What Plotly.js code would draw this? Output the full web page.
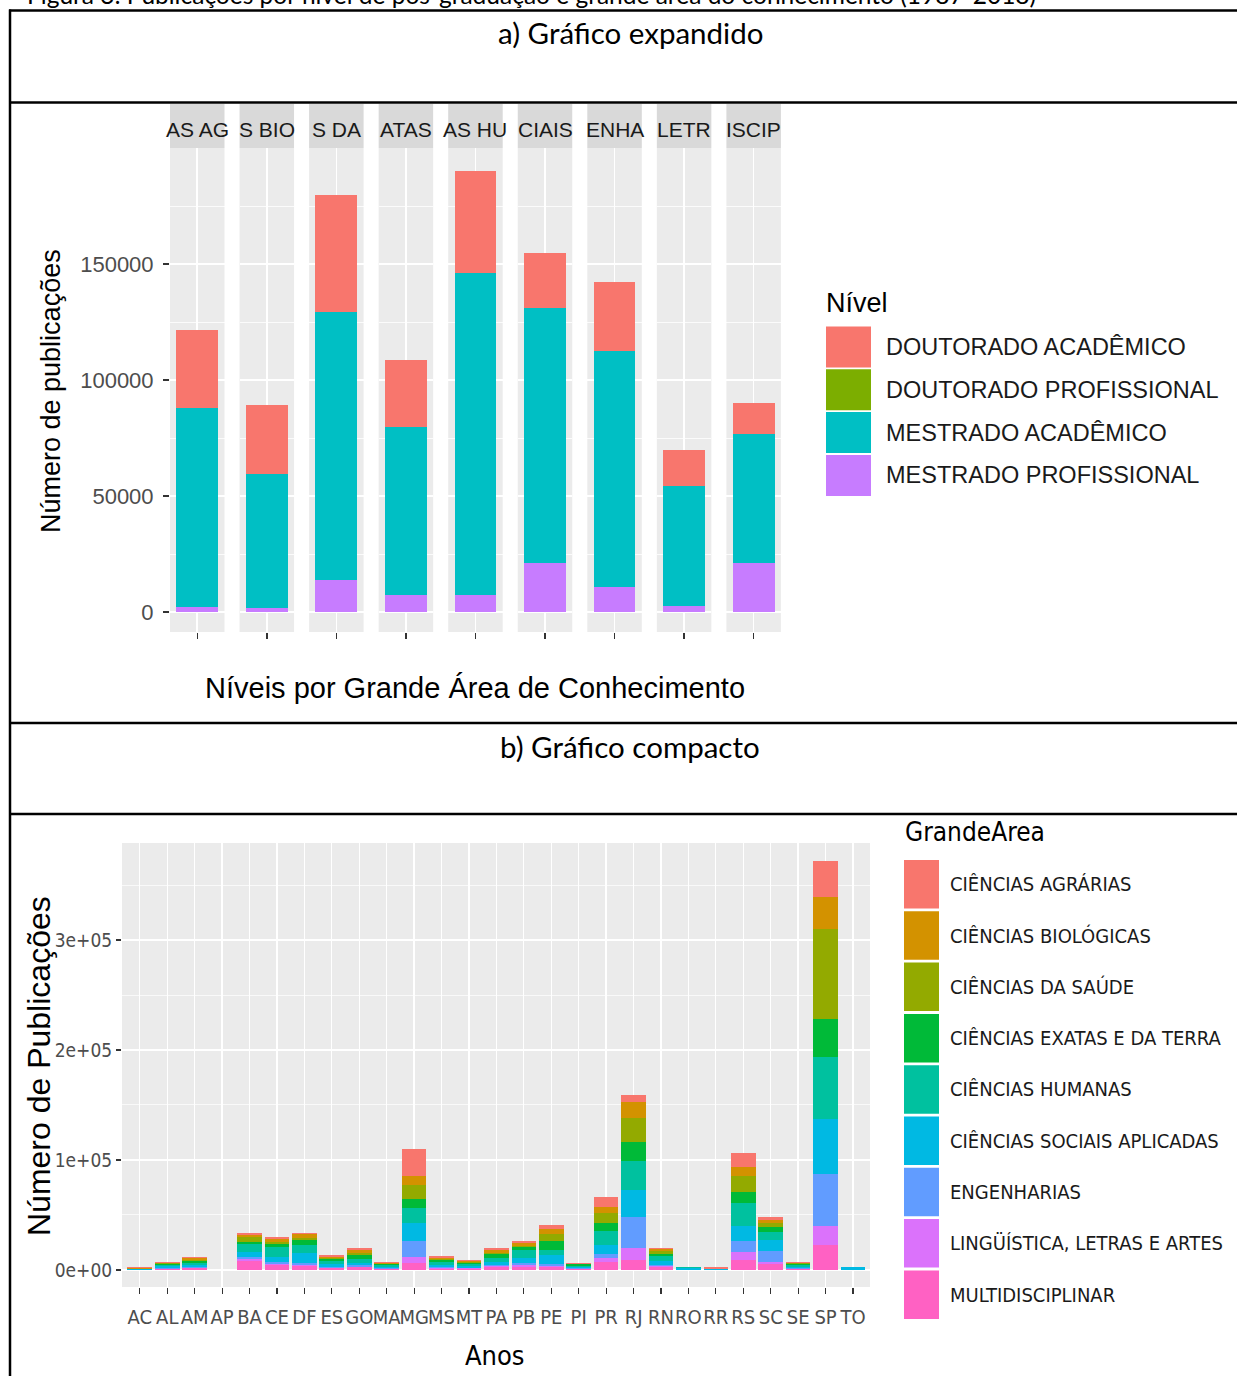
<!DOCTYPE html>
<html>
<head>
<meta charset="utf-8">
<script src="https://cdn.plot.ly/plotly-3.0.1.min.js"></script>
<style>html,body{margin:0;padding:0;background:#fff;}#chart{width:1237px;height:1376px;}</style>
</head>
<body>
<div id="chart"></div>
<script>
// ---------- DATA: chart a) ----------
const areasA = ['CIÊNCIAS AGRÁRIAS','CIÊNCIAS BIOLÓGICAS','CIÊNCIAS DA SAÚDE','CIÊNCIAS EXATAS E DA TERRA','CIÊNCIAS HUMANAS','CIÊNCIAS SOCIAIS APLICADAS','ENGENHARIAS','LINGÜÍSTICA, LETRAS E ARTES','MULTIDISCIPLINAR'];
const stripLabels = ['AS AG','S BIO','S DA','ATAS','AS HU','CIAIS','ENHA','LETR','ISCIP'];
const niveis = ['DOUTORADO ACADÊMICO','DOUTORADO PROFISSIONAL','MESTRADO ACADÊMICO','MESTRADO PROFISSIONAL'];
const coresNivel = ['#F8766D','#7CAE00','#00BFC4','#C77CFF'];
const doutoradoAcademico    = [33650, 29600, 50300, 28900, 43850, 23800, 29750, 15850, 13450];
const doutoradoProfissional = [60, 30, 120, 80, 40, 100, 110, 20, 90];
const mestradoAcademico     = [85500, 57900, 115600, 72150, 138650, 109850, 101650, 51450, 55350];
const mestradoProfissional  = [2300, 1700, 13800, 7500, 7500, 21200, 10800, 2700, 21200];
const ticksA = [0, 50000, 100000, 150000];

// ---------- DATA: chart b) ----------
const estados = ['AC','AL','AM','AP','BA','CE','DF','ES','GO','MA','MG','MS','MT','PA','PB','PE','PI','PR','RJ','RN','RO','RR','RS','SC','SE','SP','TO'];
const grandesAreas = ['CIÊNCIAS AGRÁRIAS','CIÊNCIAS BIOLÓGICAS','CIÊNCIAS DA SAÚDE','CIÊNCIAS EXATAS E DA TERRA','CIÊNCIAS HUMANAS','CIÊNCIAS SOCIAIS APLICADAS','ENGENHARIAS','LINGÜÍSTICA, LETRAS E ARTES','MULTIDISCIPLINAR'];
const coresArea = ['#F8766D','#D39200','#93AA00','#00BA38','#00C19F','#00B9E3','#619CFF','#DB72FB','#FF61C3'];
//                   AC   AL    AM   AP   BA    CE    DF    ES    GO    MA    MG     MS    MT    PA    PB    PE    PI    PR     RJ     RN    RO    RR    RS     SC     SE    SP     TO
const agrarias     = [1000, 300, 1500, 0, 1500, 2100, 1200, 1000, 2100, 700, 24500, 1500, 1500, 2100, 2100, 3100, 300, 9200, 6100, 800, 100, 1500, 12200, 2400, 300, 33000, 100];
const biologicas   = [200, 700, 1200, 0, 2500, 2100, 3000, 1200, 2100, 500, 8000, 1200, 800, 2100, 2100, 4600, 300, 5200, 14700, 2100, 100, 100, 8900, 3100, 400, 28800, 100];
const saude        = [200, 500, 1200, 0, 4000, 2500, 2500, 800, 2400, 600, 12900, 1000, 700, 1500, 1000, 6100, 500, 9200, 22000, 2100, 100, 100, 14100, 3100, 600, 81400, 100];
const exatas       = [200, 800, 2100, 0, 2500, 2500, 4500, 2000, 3000, 800, 7700, 2000, 1500, 3500, 3000, 8700, 1500, 7000, 16800, 2400, 100, 200, 9800, 4600, 1500, 35200, 100];
const humanas      = [300, 1500, 1800, 0, 6500, 9000, 7500, 3000, 3700, 1700, 13800, 2500, 1800, 3700, 7000, 4600, 1200, 12800, 26600, 4600, 300, 300, 20800, 7700, 1300, 56300, 300];
const sociais      = [200, 1200, 1500, 0, 4500, 4600, 9000, 2400, 2500, 1200, 16800, 1800, 1200, 2500, 5000, 7600, 800, 8300, 24500, 3100, 1800, 200, 14400, 10300, 1200, 49900, 2000];
const engenharias  = [100, 800, 800, 0, 2500, 1500, 1200, 800, 1000, 500, 14400, 800, 600, 1000, 1800, 2500, 500, 4000, 28500, 1500, 100, 100, 10100, 9200, 800, 46800, 100];
const letras       = [100, 500, 700, 0, 2000, 1200, 1500, 600, 800, 400, 5500, 500, 400, 600, 1200, 800, 300, 3100, 10700, 800, 100, 100, 6700, 2400, 300, 18100, 100];
const multi        = [200, 700, 1400, 0, 7700, 4500, 3300, 1400, 2300, 600, 6100, 1200, 1000, 2900, 3000, 2500, 700, 7650, 9200, 2500, 200, 200, 9200, 5200, 600, 22300, 100];
const ticksB = [0, 100000, 200000, 300000];
const ticksBText = ['0e+00','1e+05','2e+05','3e+05'];

// ---------- helpers ----------
const W = 1237, H = 1376;
const px = x => x / W;
const py = y => 1 - y / H;
const SANS = '"Liberation Sans", Arial, sans-serif';
const COND = '"Liberation Sans Narrow", "DejaVu Sans Condensed", "Arial Narrow", sans-serif';
const DOC = 'Lato, "Open Sans", sans-serif';

const traces = [];
const layout = {
  width: W, height: H,
  margin: {l: 0, r: 0, t: 0, b: 0},
  paper_bgcolor: '#FFFFFF', plot_bgcolor: '#EBEBEB',
  barmode: 'stack', showlegend: false,
  font: {family: SANS, color: '#000'},
  shapes: [], annotations: []
};

// ---------- chart a) facets ----------
const stackA = [
  {name: niveis[3], vals: mestradoProfissional, color: coresNivel[3]},
  {name: niveis[2], vals: mestradoAcademico, color: coresNivel[2]},
  {name: niveis[1], vals: doutoradoProfissional, color: coresNivel[1]},
  {name: niveis[0], vals: doutoradoAcademico, color: coresNivel[0]}
];
const panelTop = 148, panelBot = 632, stripTop = 104;
areasA.forEach((area, i) => {
  const L = 170 + i * 69.55, R = L + 54.5;
  const axName = i === 0 ? 'xaxis' : 'xaxis' + (i + 1);
  const axRef = i === 0 ? 'x' : 'x' + (i + 1);
  layout[axName] = {
    domain: [px(L), px(R)], anchor: 'y', type: 'category', range: [-0.6, 0.6],
    showgrid: true, gridcolor: '#FFFFFF', gridwidth: 1.6,
    ticks: 'outside', ticklen: 6, tickwidth: 1.5, tickcolor: '#333333',
    showticklabels: false, zeroline: false, showline: false, fixedrange: true
  };
  stackA.forEach(s => {
    traces.push({type: 'bar', x: [area], y: [s.vals[i]], name: s.name, xaxis: axRef, yaxis: 'y',
      width: 0.92, marker: {color: s.color, line: {width: 0}}});
  });
  layout.shapes.push({type: 'rect', xref: 'paper', yref: 'paper', x0: px(L), x1: px(R), y0: py(panelTop), y1: py(stripTop),
    fillcolor: '#D9D9D9', line: {width: 0}, layer: 'below'});
  layout.annotations.push({xref: 'paper', yref: 'paper', x: px((L + R) / 2), y: py(129), text: stripLabels[i],
    showarrow: false, xanchor: 'center', yanchor: 'middle', font: {family: SANS, size: 21, color: '#1A1A1A'}});
});
layout.yaxis = {
  domain: [py(panelBot), py(panelTop)], anchor: 'x', range: [-8600, 200000],
  tickmode: 'array', tickvals: ticksA, ticktext: ticksA.map(String),
  ticks: 'outside', ticklen: 6, tickwidth: 1.5, tickcolor: '#333333', ticklabelstandoff: 5,
  tickfont: {family: SANS, size: 22, color: '#4D4D4D'},
  showgrid: true, gridcolor: '#FFFFFF', gridwidth: 1.6, zeroline: false, fixedrange: true,
  minor: {tickmode: 'array', tickvals: [25000, 75000, 125000, 175000], showgrid: true, gridcolor: '#FFFFFF', gridwidth: 0.8, ticks: ''}
};

// ---------- chart b) ----------
const stackB = [multi, letras, engenharias, sociais, humanas, exatas, saude, biologicas, agrarias];
stackB.forEach((vals, k) => {
  const idx = 8 - k;
  traces.push({type: 'bar', x: estados, y: vals, name: grandesAreas[idx], xaxis: 'x10', yaxis: 'y2',
    width: 0.9, marker: {color: coresArea[idx], line: {width: 0}}});
});
layout.xaxis10 = {
  domain: [px(122), px(870)], anchor: 'y2', type: 'category', categoryorder: 'array', categoryarray: estados,
  range: [-0.65, 26.62], showgrid: true, gridcolor: '#FFFFFF', gridwidth: 1.3,
  ticks: 'outside', ticklen: 6, tickwidth: 1.2, tickcolor: '#333333', tickangle: 0, ticklabelstandoff: 6,
  tickfont: {family: COND, size: 20, color: '#4D4D4D'}, zeroline: false, fixedrange: true
};
layout.yaxis2 = {
  domain: [py(1287), py(843)], anchor: 'x10', range: [-15500, 388200],
  tickmode: 'array', tickvals: ticksB, ticktext: ticksBText,
  ticks: 'outside', ticklen: 5, tickwidth: 1.2, tickcolor: '#333333',
  tickfont: {family: COND, size: 19, color: '#4D4D4D'},
  showgrid: true, gridcolor: '#FFFFFF', gridwidth: 1.3, zeroline: false, fixedrange: true,
  minor: {tickmode: 'array', tickvals: [50000, 150000, 250000, 350000], showgrid: true, gridcolor: '#FFFFFF', gridwidth: 0.7, ticks: ''}
};

// ---------- manual legends ----------
layout.annotations.push({xref: 'paper', yref: 'paper', x: px(824), y: py(303), text: 'Nível', showarrow: false,
  xanchor: 'left', yanchor: 'middle', font: {family: SANS, size: 27, color: '#000'}});
niveis.forEach((n, i) => {
  const t = 326.5 + i * 42.8, b = t + 41;
  layout.shapes.push({type: 'rect', xref: 'paper', yref: 'paper', x0: px(826), x1: px(871), y0: py(b), y1: py(t),
    fillcolor: coresNivel[i], line: {width: 0}});
  layout.annotations.push({xref: 'paper', yref: 'paper', x: px(884), y: py((t + b) / 2), text: n, showarrow: false,
    xanchor: 'left', yanchor: 'middle', font: {family: SANS, size: 23.5, color: '#1A1A1A'}});
});
layout.annotations.push({xref: 'paper', yref: 'paper', x: px(903), y: py(832), text: 'GrandeArea', showarrow: false,
  xanchor: 'left', yanchor: 'middle', font: {family: COND, size: 26, color: '#000'}});
grandesAreas.forEach((n, i) => {
  const t = 860 + i * 51.3, b = t + 48.5;
  layout.shapes.push({type: 'rect', xref: 'paper', yref: 'paper', x0: px(904), x1: px(939), y0: py(b), y1: py(t),
    fillcolor: coresArea[i], line: {width: 0}});
  layout.annotations.push({xref: 'paper', yref: 'paper', x: px(948), y: py((t + b) / 2), text: n, showarrow: false,
    xanchor: 'left', yanchor: 'middle', font: {family: COND, size: 20, color: '#1A1A1A'}});
});

// ---------- axis titles ----------
layout.annotations.push(
  {xref: 'paper', yref: 'paper', x: px(51), y: py(391), text: 'Número de publicações', textangle: -90, showarrow: false,
   xanchor: 'center', yanchor: 'middle', font: {family: SANS, size: 27, color: '#000'}},
  {xref: 'paper', yref: 'paper', x: px(475), y: py(688), text: 'Níveis por Grande Área de Conhecimento', showarrow: false,
   xanchor: 'center', yanchor: 'middle', font: {family: SANS, size: 29, color: '#000'}},
  {xref: 'paper', yref: 'paper', x: px(39), y: py(1066), text: 'Número de Publicações', textangle: -90, showarrow: false,
   xanchor: 'center', yanchor: 'middle', font: {family: SANS, size: 32, color: '#000'}},
  {xref: 'paper', yref: 'paper', x: px(495), y: py(1355), text: 'Anos', showarrow: false,
   xanchor: 'center', yanchor: 'middle', font: {family: COND, size: 27, color: '#000'}}
);

// ---------- document frame & headings ----------
layout.annotations.push(
  {xref: 'paper', yref: 'paper', x: px(531), y: py(11), text: 'Figura 3: Publicações por nível de pós-graduação e grande área do conhecimento (1987-2018)',
   showarrow: false, xanchor: 'center', yanchor: 'bottom', font: {family: DOC, size: 24.5, color: '#000'}},
  {xref: 'paper', yref: 'paper', x: px(630), y: py(33), text: 'a) Gráfico expandido', showarrow: false,
   xanchor: 'center', yanchor: 'middle', font: {family: DOC, size: 29.5, color: '#000'}},
  {xref: 'paper', yref: 'paper', x: px(630), y: py(746), text: 'b) Gráfico compacto', showarrow: false,
   xanchor: 'center', yanchor: 'middle', font: {family: DOC, size: 29.5, color: '#000'}}
);
const hLines = [10.5, 102.5, 723, 814];
hLines.forEach(y => layout.shapes.push({type: 'line', xref: 'paper', yref: 'paper', x0: px(9), x1: 1.01, y0: py(y), y1: py(y),
  line: {color: '#000', width: 2.5}}));
layout.shapes.push({type: 'line', xref: 'paper', yref: 'paper', x0: px(10), x1: px(10), y0: py(9.5), y1: -0.01,
  line: {color: '#000', width: 2.5}});

Plotly.newPlot('chart', traces, layout, {displayModeBar: false, staticPlot: true});
</script>
</body>
</html>
